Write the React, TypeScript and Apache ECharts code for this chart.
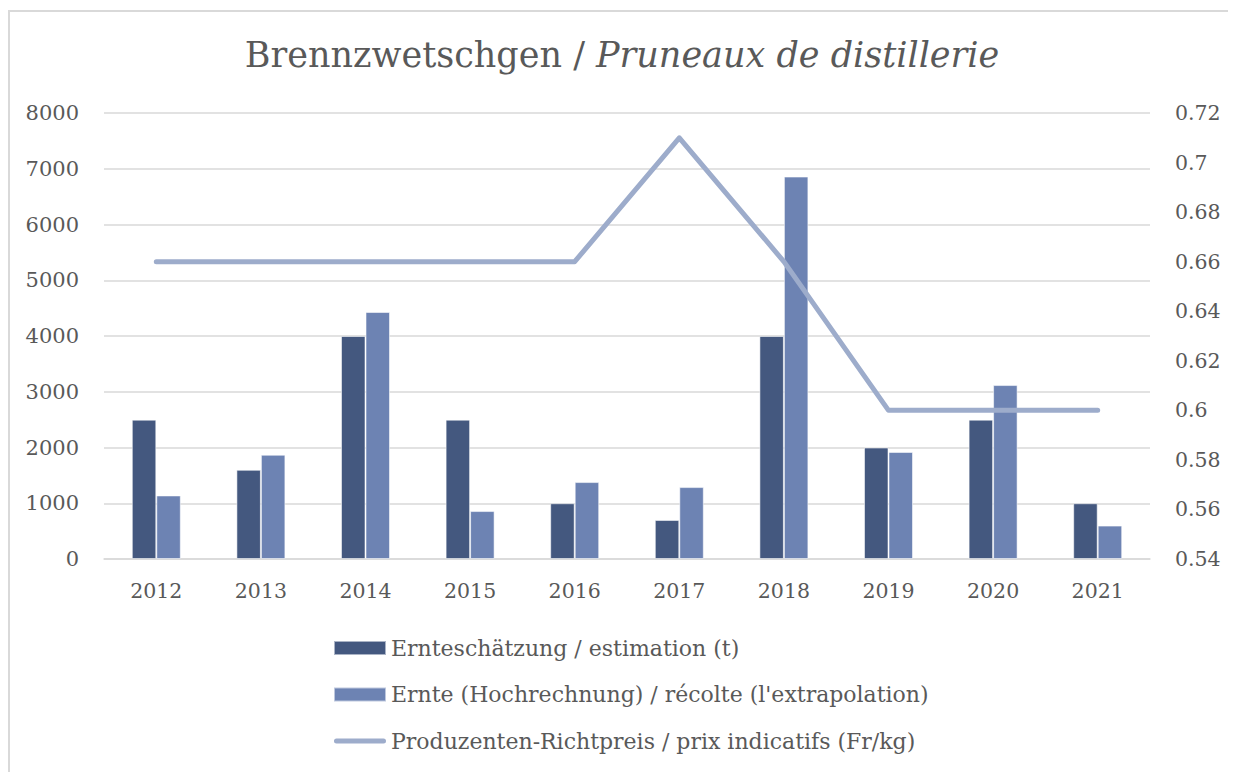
import React, { useEffect, useRef } from "react";
import * as echarts from "echarts";

const years = ["2012", "2013", "2014", "2015", "2016", "2017", "2018", "2019", "2020", "2021"];
const estimation = [2500, 1600, 4000, 2500, 1000, 700, 4000, 2000, 2500, 1000];
const harvest = [1140, 1870, 4430, 860, 1380, 1290, 6860, 1920, 3120, 600];
const price = [0.66, 0.66, 0.66, 0.66, 0.66, 0.71, 0.66, 0.6, 0.6, 0.6];

const seriesNames = [
  "Ernteschätzung / estimation (t)",
  "Ernte (Hochrechnung) / récolte (l'extrapolation)",
  "Produzenten-Richtpreis / prix indicatifs (Fr/kg)",
];

const FONT = "'Roboto Slab', 'DejaVu Serif', serif";
const TXT = "#595959";
const LINE_ICON = "path://M2.5,0 L49.5,0 A2.5,2.5 0 0 1 49.5,5 L2.5,5 A2.5,2.5 0 0 1 2.5,0 Z";

export default function App() {
  const ref = useRef<HTMLDivElement>(null);
  useEffect(() => {
    if (!ref.current) return;
    const chart = echarts.init(ref.current, null, { renderer: "svg" });
    chart.setOption({
      animation: false,
      backgroundColor: "#ffffff",
      textStyle: { fontFamily: FONT, color: TXT },
      graphic: [
        {
          type: "rect",
          shape: { x: 1, y: 3, width: 1300, height: 900 },
          style: { fill: "none", stroke: "#D9D9D9", lineWidth: 2 },
          silent: true,
        },
      ],
      title: {
        left: "center",
        top: 24,
        text: "Brennzwetschgen / {i|Pruneaux de distillerie}",
        textStyle: {
          fontFamily: FONT,
          fontSize: 35,
          fontWeight: "normal",
          color: TXT,
          rich: {
            i: { fontFamily: FONT, fontSize: 35, fontStyle: "italic", color: TXT },
          },
        },
      },
      grid: { left: 96, right: 86, top: 105, bottom: 213, containLabel: false },
      legend: {
        orient: "vertical",
        left: 325,
        top: 628,
        padding: 0,
        itemWidth: 52,
        itemHeight: 14,
        itemGap: 22.5,
        symbolKeepAspect: true,
        textStyle: { fontFamily: FONT, fontSize: 22, color: TXT, lineHeight: 24 },
        data: [
          { name: seriesNames[0], icon: "rect" },
          { name: seriesNames[1], icon: "rect" },
          { name: seriesNames[2], icon: LINE_ICON, itemStyle: { color: "#9DACCB", borderWidth: 0 } },
        ],
      },
      xAxis: {
        type: "category",
        data: years,
        axisTick: { show: false },
        axisLine: { lineStyle: { color: "#D9D9D9", width: 1.5 } },
        axisLabel: { fontFamily: FONT, fontSize: 20.5, color: TXT, margin: 21 },
      },
      yAxis: [
        {
          type: "value",
          min: 0,
          max: 8000,
          interval: 1000,
          axisLine: { show: false },
          axisTick: { show: false },
          splitLine: { lineStyle: { color: "#D9D9D9", width: 1.5 } },
          axisLabel: {
            fontFamily: FONT,
            fontSize: 21,
            color: TXT,
            margin: 25,
            formatter: (v: number) => String(v),
          },
        },
        {
          type: "value",
          min: 0.54,
          max: 0.72,
          interval: 0.02,
          axisLine: { show: false },
          axisTick: { show: false },
          splitLine: { show: false },
          axisLabel: {
            fontFamily: FONT,
            fontSize: 20.5,
            color: TXT,
            margin: 25,
            formatter: (v: number) => String(parseFloat(v.toFixed(2))),
          },
        },
      ],
      series: [
        {
          name: seriesNames[0],
          type: "bar",
          data: estimation,
          barWidth: 24.5,
          barGap: "0%",
          itemStyle: { color: "#44587F", borderColor: "rgba(255,255,255,0.55)", borderWidth: 1 },
        },
        {
          name: seriesNames[1],
          type: "bar",
          data: harvest,
          barWidth: 24.5,
          barGap: "0%",
          itemStyle: { color: "#6D83B3", borderColor: "rgba(255,255,255,0.55)", borderWidth: 1 },
        },
        {
          name: seriesNames[2],
          type: "line",
          yAxisIndex: 1,
          data: price,
          symbol: "none",
          showSymbol: false,
          lineStyle: { color: "#9DACCB", width: 5, cap: "round", join: "round" },
          itemStyle: { color: "#9DACCB" },
          z: 5,
        },
      ],
    });
    return () => chart.dispose();
  }, []);
  return <div ref={ref} style={{ width: 1228, height: 764 }} />;
}
